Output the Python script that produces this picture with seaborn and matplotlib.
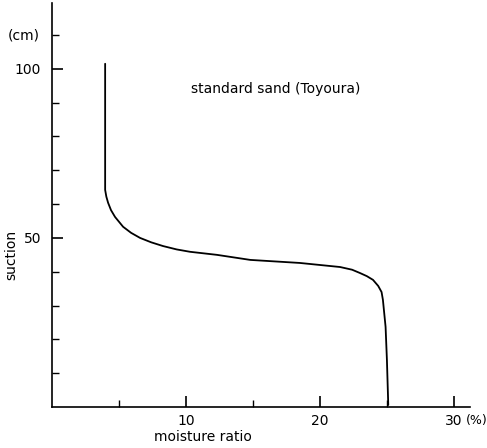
import matplotlib
matplotlib.use("Agg")
import matplotlib.pyplot as plt
import seaborn as sns
import pandas as pd

# moisture ratio (%) vs suction (cm), standard sand (Toyoura)
moisture = [3.96, 3.96, 3.96, 4.05, 4.18, 4.40, 4.70, 5.30, 5.90, 6.57, 7.40,
            8.28, 9.30, 10.3, 12.3, 14.8, 18.5, 21.5, 22.4, 23.0, 23.5, 23.96,
            24.35, 24.6, 24.7, 24.9, 25.0, 25.1]
suction = [101.5, 70.1, 64.2, 62.2, 60.4, 58.2, 56.2, 53.3, 51.5, 50.0, 48.7,
           47.6, 46.6, 45.9, 45.0, 43.5, 42.6, 41.4, 40.6, 39.6, 38.7, 37.6,
           35.8, 34.0, 31.7, 23.7, 13.9, 0.6]

x_major = [10, 20, 30]
x_minor = [5, 15, 25]
y_major = [50, 100]
y_minor = [10, 20, 30, 40, 60, 70, 80, 90, 110]

df = pd.DataFrame({"moisture": moisture, "suction": suction})

sns.set_style("white")
plt.rcParams['font.family'] = ['DejaVu Sans']
plt.rcParams['text.color'] = 'black'
plt.rcParams['axes.labelcolor'] = 'black'

fig = plt.figure(figsize=(4.87, 4.48), dpi=100)
ax = fig.add_axes([0.107, 0.0915, 0.858, 0.902])

sns.lineplot(data=df, x="moisture", y="suction", sort=False, estimator=None,
             color="black", linewidth=1.3, ax=ax)

ax.set_xlim(0, 31.2)
ax.set_ylim(0, 119.5)
ax.spines['top'].set_visible(False)
ax.spines['right'].set_visible(False)
for s in ['left', 'bottom']:
    ax.spines[s].set_color('black')
    ax.spines[s].set_linewidth(1.2)

ax.set_xticks(x_major)
ax.set_xticks(x_minor, minor=True)
ax.set_yticks(y_major)
ax.set_yticks(y_minor, minor=True)
ax.set_xticklabels([str(v) for v in x_major])
ax.set_yticklabels([str(v) for v in y_major])
ax.tick_params(which='both', bottom=True, left=True, top=False, right=False)
ax.tick_params(which='major', direction='in', length=8, width=1.2, labelsize=10, colors='black')
ax.tick_params(which='minor', direction='in', length=5, width=1.0, colors='black')
ax.tick_params(axis='x', pad=5)
ax.tick_params(axis='y', pad=8)

ax.set_xlabel("moisture ratio", fontsize=10)
ax.set_ylabel("suction", fontsize=10)
ax.xaxis.set_label_coords(0.361, -0.058)
ax.yaxis.set_label_coords(-0.08, 0.376)

ax.text(31.68, -0.017, "(%)", transform=ax.get_xaxis_transform(), fontsize=9,
        va='top', ha='center')
ax.text(-0.03, 110, "(cm)", transform=ax.get_yaxis_transform(), fontsize=10,
        va='center', ha='right')
ax.text(10.4, 94, "standard sand (Toyoura)", fontsize=10, va='center', ha='left')

fig.savefig("out.png", dpi=100)
